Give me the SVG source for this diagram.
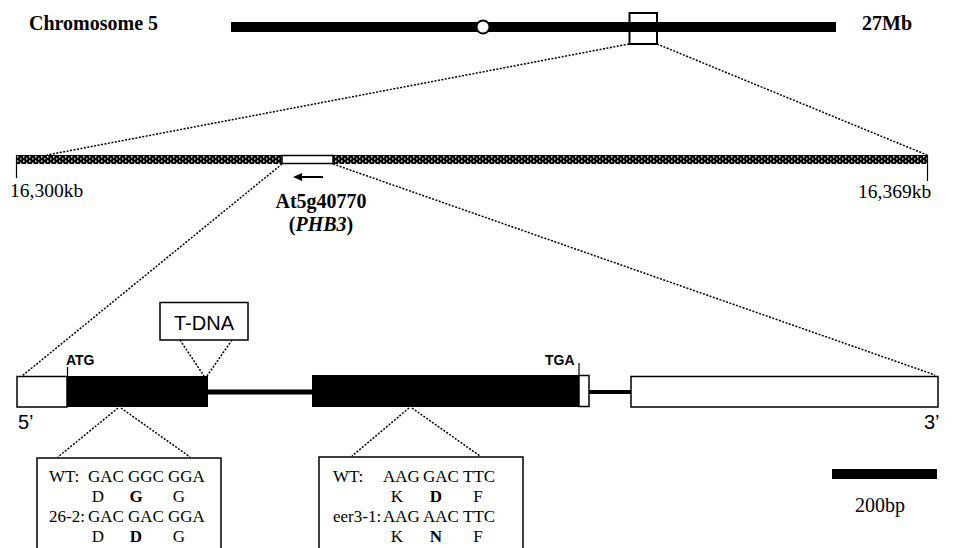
<svg xmlns="http://www.w3.org/2000/svg" width="966" height="548" viewBox="0 0 966 548">
<style>
.serif{font-family:"Liberation Serif","Times New Roman",serif;fill:#000}
.sans{font-family:"Liberation Sans",Arial,sans-serif;fill:#000}
.b{font-weight:bold}
.dot{stroke:#000;stroke-width:1.5;stroke-dasharray:2,1.5;fill:none}
.solid{stroke:#000;fill:none}
.box{fill:#fff;stroke:#000;stroke-width:1.5}
.seq{font-size:17px}
</style>
<defs>
<pattern id="stip" x="16" y="155" width="6" height="4.5" patternUnits="userSpaceOnUse">
<rect width="6" height="4.5" fill="#000"/>
<rect x="1" y="1" width="1.5" height="1.5" fill="#fff"/>
<rect x="4" y="3.2" width="1.5" height="1.3" fill="#fff"/>
</pattern>
</defs>
<rect width="966" height="548" fill="#fff"/>

<g id="chromosome">
<text class="serif b" x="29" y="30" font-size="20">Chromosome 5</text>
<rect x="231" y="22" width="605" height="10" fill="#000"/>
<circle cx="483" cy="27" r="6.5" fill="#fff" stroke="#000" stroke-width="2"/>
<rect x="629.5" y="13" width="27.5" height="31" fill="none" stroke="#000" stroke-width="2"/>
<text class="serif b" x="862" y="30" font-size="20">27Mb</text>
</g>

<g id="region">
<rect x="16" y="155" width="912" height="9" fill="url(#stip)"/>
<rect x="282" y="155.5" width="51" height="8" fill="#fff" stroke="#000" stroke-width="1.5"/>
<line class="solid" x1="16.5" y1="155" x2="16.5" y2="178" stroke-width="1.2"/>
<line class="solid" x1="927.5" y1="155" x2="927.5" y2="181" stroke-width="1.2"/>
<text class="serif" x="10" y="197" font-size="19.5">16,300kb</text>
<text class="serif" x="858" y="198" font-size="19.5">16,369kb</text>
<line class="solid" x1="300" y1="177" x2="323" y2="177" stroke-width="2"/>
<polygon points="293,177 302,173 302,181" fill="#000"/>
<text class="serif b" x="321" y="208" font-size="20" text-anchor="middle">At5g40770</text>
<text class="serif b" x="321" y="231" font-size="20" text-anchor="middle">(<tspan font-style="italic">PHB3</tspan>)</text>
</g>

<g id="gene">
<line class="solid" x1="208" y1="392" x2="312" y2="392" stroke-width="5"/>
<line class="solid" x1="589" y1="392" x2="631" y2="392" stroke-width="4"/>
<rect x="17" y="376.5" width="50" height="30.5" class="box"/>
<rect x="67" y="376" width="141" height="31" fill="#000"/>
<rect x="312" y="375" width="267" height="32" fill="#000"/>
<rect x="579" y="375.5" width="10" height="31" class="box"/>
<rect x="631" y="376.5" width="307" height="30.5" class="box"/>
<text class="sans b" x="66" y="365" font-size="14">ATG</text>
<line class="solid" x1="67.5" y1="367" x2="67.5" y2="376" stroke-width="1.2"/>
<text class="sans b" x="545" y="365" font-size="14">TGA</text>
<line class="solid" x1="579" y1="363" x2="579" y2="375" stroke-width="1.2"/>
<text class="sans" x="18" y="429" font-size="20">5’</text>
<text class="sans" x="924" y="429" font-size="20">3’</text>
</g>

<g id="tdna">
<rect x="160" y="302.5" width="88" height="37.5" class="box" stroke-width="1.2"/>
<text class="sans" x="204" y="330" font-size="20" text-anchor="middle">T-DNA</text>
</g>

<g id="box1">
<rect x="37" y="458" width="184" height="100" class="box" stroke-width="1.2"/>
<text class="serif seq" x="49" y="482">WT:</text>
<text class="serif seq" x="88" y="482">GAC</text>
<text class="serif seq" x="128" y="482">GGC</text>
<text class="serif seq" x="168" y="482">GGA</text>
<text class="serif seq" x="98" y="502" text-anchor="middle">D</text>
<text class="serif seq b" x="136" y="502" text-anchor="middle">G</text>
<text class="serif seq" x="179" y="502" text-anchor="middle">G</text>
<text class="serif seq" x="49" y="522">26-2:</text>
<text class="serif seq" x="88" y="522">GAC</text>
<text class="serif seq" x="128" y="522">GAC</text>
<text class="serif seq" x="168" y="522">GGA</text>
<text class="serif seq" x="98" y="542" text-anchor="middle">D</text>
<text class="serif seq b" x="136" y="542" text-anchor="middle">D</text>
<text class="serif seq" x="179" y="542" text-anchor="middle">G</text>
</g>

<g id="box2">
<rect x="319" y="457" width="204" height="100" class="box" stroke-width="1.2"/>
<text class="serif seq" x="333" y="482">WT:</text>
<text class="serif seq" x="383" y="482">AAG</text>
<text class="serif seq" x="423" y="482">GAC</text>
<text class="serif seq" x="463" y="482">TTC</text>
<text class="serif seq" x="397" y="502" text-anchor="middle">K</text>
<text class="serif seq b" x="436" y="502" text-anchor="middle">D</text>
<text class="serif seq" x="478" y="502" text-anchor="middle">F</text>
<text class="serif seq" x="333" y="522">eer3-1:</text>
<text class="serif seq" x="383" y="522">AAG</text>
<text class="serif seq" x="423" y="522">AAC</text>
<text class="serif seq" x="463" y="522">TTC</text>
<text class="serif seq" x="397" y="542" text-anchor="middle">K</text>
<text class="serif seq b" x="436" y="542" text-anchor="middle">N</text>
<text class="serif seq" x="478" y="542" text-anchor="middle">F</text>
</g>

<g id="scalebar">
<rect x="832" y="469" width="105" height="10" fill="#000"/>
<text class="serif" x="855" y="512" font-size="20">200bp</text>
</g>

<g id="connectors">
<line class="dot" x1="629" y1="44" x2="47" y2="155"/>
<line class="dot" x1="657" y1="44" x2="927" y2="155"/>
<line class="dot" x1="282" y1="164" x2="22" y2="376"/>
<line class="dot" x1="333" y1="164" x2="935" y2="375"/>
<line class="dot" x1="180" y1="340" x2="204" y2="376"/>
<line class="dot" x1="232" y1="340" x2="207" y2="376"/>
<line class="dot" x1="118" y1="408" x2="58" y2="457"/>
<line class="dot" x1="121" y1="408" x2="190" y2="457"/>
<line class="dot" x1="409" y1="408" x2="352" y2="456"/>
<line class="dot" x1="412" y1="408" x2="480" y2="456"/>
</g>
</svg>
